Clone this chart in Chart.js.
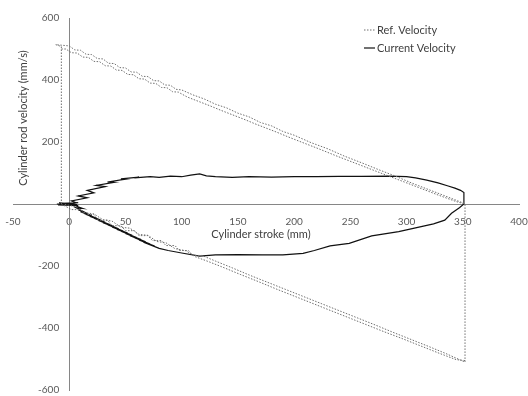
<!DOCTYPE html>
<html>
<head>
<meta charset="utf-8">
<script src="https://cdn.jsdelivr.net/npm/chart.js@4"></script>
<style>
  html, body { margin: 0; padding: 0; background: #fff; }
  #wrap { width: 528px; height: 396px; }
</style>
</head>
<body>
<div id="wrap"><canvas id="grafico"></canvas></div>
<script>
// ticks
const xTicks = [-50, 0, 50, 100, 150, 200, 250, 300, 350, 400];
const yTicks = [-600, -400, -200, 0, 200, 400, 600];

// Ref. Velocity (two cycles; null = pen up)
const refStroke = [
  -7, -7, -12, 0, 5, 10, 15, 20, 25, 30, 35, 40, 45, 50, 55, 60, 65, 70, 75, 80, 85, 90, 95, 100, 110, 120, 130, 140, 150,
  160, 170, 180, 190, 200, 215, 230, 245, 260, 275, 290, 305, 320, 335, 352,
  352, 336, 320, 304, 288, 272, 256, 240, 224, 208, 192, 176, 160, 145, 130, 118, 110, 106, 98, 94, 86, 82, 74, 70, 62, 58,
  50, 46, 38, 34, 26, 22, 14, 10, 2, -7,
  null,
  -7, -3, 2, 7, 12, 17, 22, 27, 32, 37, 42, 47, 52, 57, 62, 67, 72, 77, 82, 87, 92, 97, 105, 115, 125, 135, 145, 155, 165,
  175, 185, 195, 207, 222, 237, 252, 267, 282, 298, 313, 328, 344, 352,
  null,
  352, 344, 328, 312, 296, 280, 264, 248, 232, 216, 200, 184, 168, 152, 138, 124, 112, 104, 94, 86, 78, 70, 62, 54, 46, 38,
  30, 22, 14, 6, -5
];
const refVelocity = [
  0, 508, 514, 510, 497, 496, 483, 482, 469, 468, 454, 453, 440, 439, 426, 425, 412, 411, 398, 397, 384, 383, 370, 368, 352,
  339, 322, 310, 293, 281, 263, 252, 234, 222, 198, 178, 154, 133, 111, 90, 67, 46, 25, 1,
  -510, -484, -460, -437, -414, -390, -367, -344, -321, -298, -275, -252, -229, -206, -184, -166, -166, -150, -150, -134,
  -134, -118, -118, -102, -102, -86, -86, -70, -70, -52, -52, -34, -34, -18, -18, 0,
  null,
  500, 500, 488, 487, 474, 473, 460, 459, 446, 445, 432, 431, 418, 417, 404, 403, 390, 389, 376, 375, 362, 361, 345, 331,
  317, 302, 288, 274, 259, 245, 231, 216, 199, 178, 156, 135, 114, 93, 71, 50, 29, 8, 0,
  null,
  -505, -502, -480, -457, -434, -412, -389, -366, -343, -320, -297, -274, -250, -227, -206, -186, -170, -151, -144, -125,
  -121, -101, -98, -78, -75, -55, -51, -32, -28, -9, 0
];

// Current Velocity
const curStroke = [
  -11, 8, -10, 8, -9, 7, -8, 6, 2, 16, 8, 22, 16, 32, 24, 40, 34, 50, 46, 62, 58, 72, 80, 90, 100, 108, 116, 122, 130, 145,
  160, 180, 200, 220, 240, 260, 284, 300, 308, 318, 328, 337, 343, 348, 351, 351, 347, 340, 334, 324, 313, 293, 269, 249,
  232, 218, 208, 190, 172, 150, 130, 116, 100, 88,
  80, 66, 76, 62, 72, 58, 68, 54, 64, 50, 60, 46, 56, 42, 52, 38, 48, 34, 44, 30, 40, 26, 36, 22, 32, 18, 28, 14, 24, 10,
  20, 8, 16, 6, 12, 4, -11
];
const curVelocity = [
  0, 4, -3, -5, 4, -2, 2, 4, 10, 20, 26, 36, 44, 56, 60, 70, 71, 80, 81, 87, 84, 88, 86, 90, 88, 93, 97, 91, 88, 86,
  88, 87, 88, 88, 89, 89, 90, 88, 84, 77, 68, 58, 51, 44, 37, 0, -12, -30, -52, -64, -73, -89, -103, -127,
  -135, -150, -159, -164, -164, -163, -164, -168, -158, -150,
  -143, -123, -136, -116, -129, -109, -122, -102, -115, -95, -108, -88, -101, -81, -94, -74, -87, -67, -80, -60, -73, -53, -66, -46, -59, -39, -52, -32, -45, -25,
  -38, -18, -31, -12, -14, -4, 0
];

const pontos = (xs, ys) => xs.map((x, i) => ({ x: x, y: ys[i] }));

Chart.defaults.font.family = "Lato, 'Open Sans', sans-serif";
Chart.defaults.color = '#595959';

// os eixos cruzam no zero: nao reservam espaco nenhum no layout
const semEspaco = s => {
  if (s.isHorizontal()) s.height = 0; else s.width = 0;
  s.paddingLeft = s.paddingRight = s.paddingTop = s.paddingBottom = 0;
};

// titulos dos eixos e legenda desenhados a mao
const extras = {
  id: 'extras',
  afterDraw(chart) {
    const ctx = chart.ctx;
    ctx.save();
    ctx.fillStyle = '#404040';
    ctx.font = "11px Lato, 'Open Sans', sans-serif";
    ctx.textAlign = 'center';
    ctx.textBaseline = 'middle';
    ctx.fillText('Cylinder stroke (mm)', 261, 234);
    ctx.save();
    ctx.translate(23, 118);
    ctx.rotate(-Math.PI / 2);
    ctx.fillText('Cylinder rod velocity (mm/s)', 0, 0);
    ctx.restore();

    // legenda
    chart.data.datasets.forEach((ds, i) => {
      const y = 30 + i * 18;
      ctx.beginPath();
      ctx.strokeStyle = ds.borderColor;
      ctx.lineWidth = ds.borderWidth;
      ctx.setLineDash(ds.borderDash || []);
      ctx.moveTo(364, y);
      ctx.lineTo(375, y);
      ctx.stroke();
      ctx.setLineDash([]);
      ctx.textAlign = 'left';
      ctx.fillText(ds.label, 377, y);
    });
    ctx.restore();
  }
};

new Chart(document.getElementById('grafico'), {
  type: 'scatter',
  data: {
    datasets: [{
      label: 'Ref. Velocity',
      data: pontos(refStroke, refVelocity),
      showLine: true,
      spanGaps: false,
      borderColor: '#6f6f6f',
      borderWidth: 1,
      borderDash: [1.5, 1.5],
      pointRadius: 0,
      tension: 0,
    }, {
      label: 'Current Velocity',
      data: pontos(curStroke, curVelocity),
      showLine: true,
      borderColor: '#111111',
      borderWidth: 1.2,
      pointRadius: 0,
      tension: 0,
    }],
  },
  options: {
    responsive: true,
    maintainAspectRatio: false,
    animation: false,
    layout: { padding: { left: 13, right: 9, top: 18, bottom: 6 } },
    plugins: { legend: { display: false }, tooltip: { enabled: false } },
    scales: {
      x: {
        type: 'linear',
        min: -50,
        max: 400,
        position: { y: 0 },
        afterBuildTicks: s => { s.ticks = xTicks.map(v => ({ value: v })); },
        afterFit: semEspaco,
        grid: { color: 'rgba(0,0,0,0)', drawTicks: false },
        border: { display: true, color: '#868686', width: 1 },
        ticks: { padding: 12, font: { size: 10 }, maxRotation: 0 },
      },
      y: {
        type: 'linear',
        min: -600,
        max: 600,
        position: { x: 0 },
        afterBuildTicks: s => { s.ticks = yTicks.map(v => ({ value: v })); },
        afterFit: semEspaco,
        grid: { color: 'rgba(0,0,0,0)', drawTicks: false },
        border: { display: true, color: '#868686', width: 1 },
        // eixo no meio: o Chart.js nao aplica padding, entao uso espacos
        ticks: { font: { size: 10 }, callback: v => (v === 0 ? '' : v + '\u2002\u2002') },
      },
    },
  },
  plugins: [extras],
});
</script>
</body>
</html>
